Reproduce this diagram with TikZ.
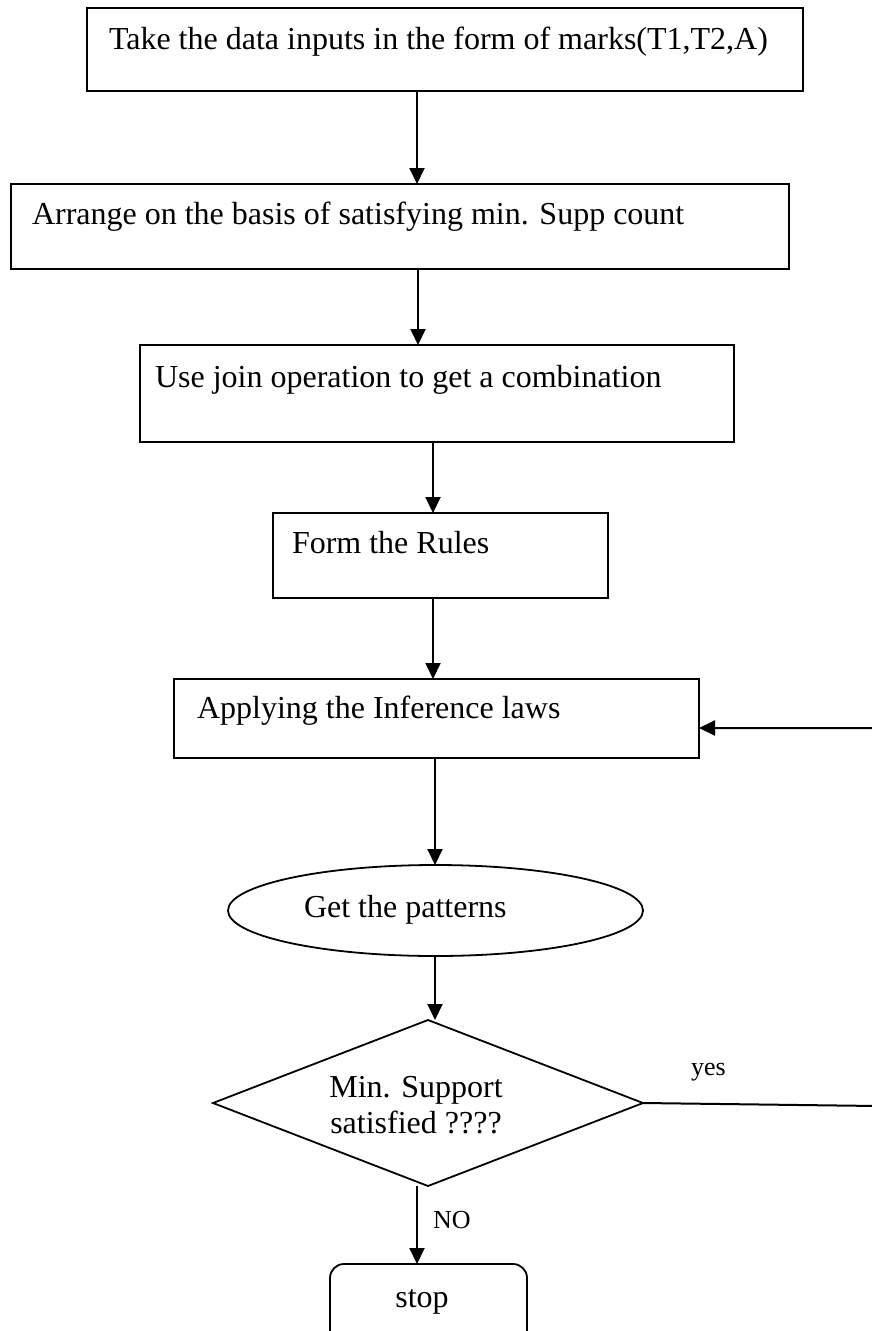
\documentclass[tikz,border=0pt]{standalone}
\usepackage{fontspec}
\setmainfont{Liberation Serif}
\usetikzlibrary{shapes.geometric,arrows.meta}
\tikzset{
 shp/.style={draw, line width=1.8pt, inner sep=0pt, outer sep=0pt},
 txt/.style={inner sep=0pt, outer sep=0pt, font=\fontsize{32}{38}\selectfont},
 lbl/.style={inner sep=0pt, outer sep=0pt, font=\fontsize{26}{30}\selectfont},
 arr/.style={line width=2pt, -{Triangle[length=16pt,width=15pt]}},
 ln/.style={line width=2pt}
}
\begin{document}
\begin{tikzpicture}[x=1pt,y=-1pt]
\useasboundingbox (0,0) rectangle (871,1331);
% boxes
\node[shp, rectangle, anchor=north west, minimum width=716pt, minimum height=83pt] (b1) at (87,8) {};
\node[txt, anchor=base west] (t1) at (109,49) {Take the data inputs in the form of marks(T1,T2,A)};
\node[shp, rectangle, anchor=north west, minimum width=778pt, minimum height=85pt] (b2) at (11,184) {};
\node[txt, anchor=base west] (t2) at (32,224) {Arrange on the basis of satisfying min. Supp count};
\node[shp, rectangle, anchor=north west, minimum width=594pt, minimum height=97pt] (b3) at (140,345) {};
\node[txt, anchor=base west] (t3) at (155,387) {Use join operation to get a combination};
\node[shp, rectangle, anchor=north west, minimum width=335pt, minimum height=85pt] (b4) at (273,513) {};
\node[txt, anchor=base west] (t4) at (292,553) {Form the Rules};
\node[shp, rectangle, anchor=north west, minimum width=525pt, minimum height=79pt] (b5) at (174,679) {};
\node[txt, anchor=base west] (t5) at (197,718) {Applying the Inference laws};
\node[shp, ellipse, minimum width=415pt, minimum height=91pt] (el) at (435.5,910.5) {};
\node[txt, anchor=base west] (te) at (304,917) {Get the patterns};
\node[shp, diamond, minimum width=430pt, minimum height=166pt] (dm) at (428,1103) {};
\node[txt, anchor=base] (td1) at (416,1097) {Min. Support};
\node[txt, anchor=base] (td2) at (416,1133) {satisfied ????};
\node[shp, rectangle, rounded corners=14pt, anchor=north west, minimum width=197pt, minimum height=90pt] (st) at (330,1264) {};
\node[txt, anchor=base] (ts) at (422,1307) {stop};
% labels
\node[lbl, anchor=base west] (yes) at (691,1075) {yes};
\node[lbl, anchor=base west] (no) at (433,1228) {NO};
% x positions of connectors
\coordinate (x1) at (417,0);
\coordinate (x2) at (418,0);
\coordinate (x3) at (433,0);
\coordinate (x5) at (435,0);
\coordinate (r1) at (877,1106);
\coordinate (r2) at (877,728);
% connectors
\draw[arr] (b1.south -| x1) -- (b2.north -| x1);
\draw[arr] (b2.south -| x2) -- (b3.north -| x2);
\draw[arr] (b3.south -| x3) -- (b4.north -| x3);
\draw[arr] (b4.south -| x3) -- (b5.north -| x3);
\draw[arr] (b5.south -| x5) -- (el.north -| x5);
\draw[arr] (el.south -| x5) -- (dm.north -| x5);
\draw[arr] (dm.south -| x1) -- (st.north -| x1);
\draw[arr] (dm.east) -- (r1) -- (r2) -- (b5.east |- r2);
\end{tikzpicture}
\end{document}
